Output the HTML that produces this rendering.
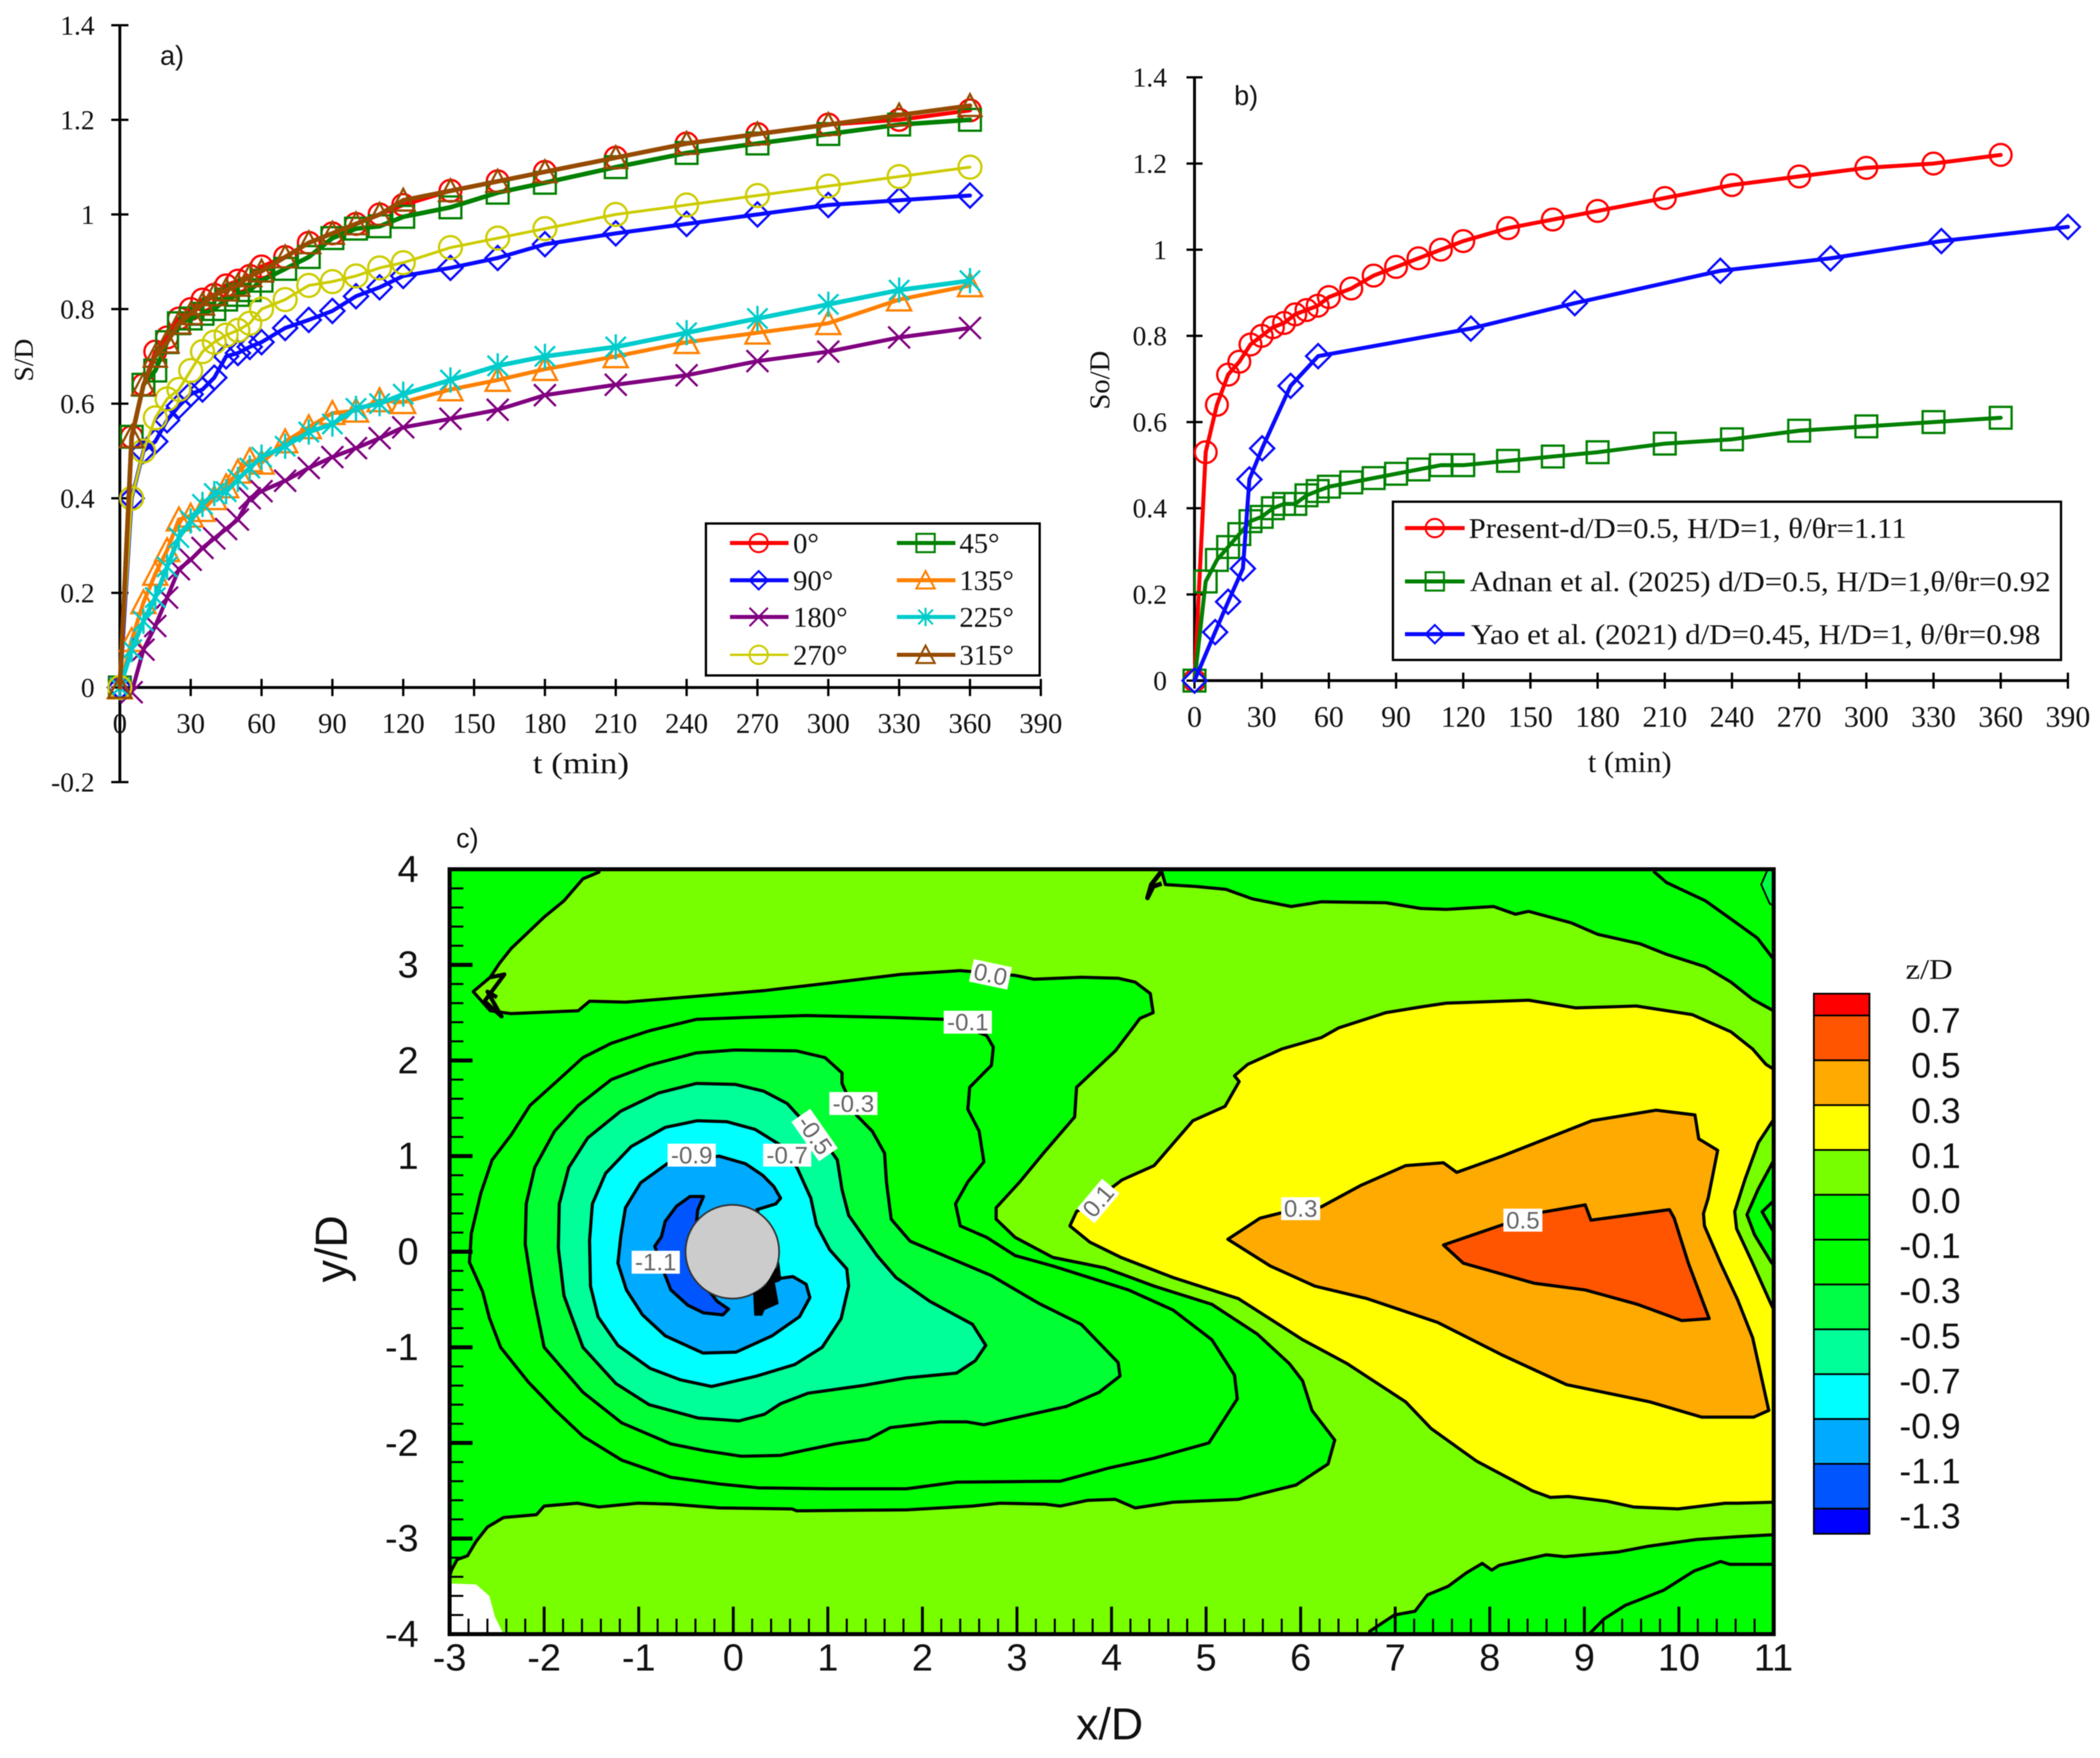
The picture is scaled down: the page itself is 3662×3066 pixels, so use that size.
<!DOCTYPE html>
<html lang="en">
<head>
<meta charset="utf-8">
<title>Scour depth time series and contour map</title>
<style>
html,body{margin:0;padding:0;background:#fff}
svg{display:block;filter:blur(0.7px)}
.serif{font-family:"Liberation Serif",serif;fill:#111}
.sans{font-family:"Liberation Sans",sans-serif;fill:#111}
</style>
</head>
<body>
<svg id="fig" xmlns="http://www.w3.org/2000/svg" width="3662" height="3066" viewBox="0 0 3662 3066">
<defs><clipPath id="plot-clip"><rect x="784" y="1516" width="2309" height="1334"/></clipPath></defs>
<rect width="3662" height="3066" fill="#fff"/>
<g id="a"></g>
<g id="b"></g>
<g id="c"></g>
</svg>
<script>
/* ---------- panel a data ---------- */
const timesA = [0,5,10,15,20,25,30,35,40,45,50,55,60,70,80,90,100,110,120,140,160,180,210,240,270,300,330,360];
const s0 = [0,.53,.64,.71,.74,.78,.80,.82,.83,.85,.86,.87,.89,.91,.94,.96,.98,1.0,1.02,1.05,1.07,1.09,1.12,1.15,1.17,1.19,1.20,1.22];
const s45 = [0,.53,.64,.67,.73,.77,.78,.79,.80,.82,.83,.84,.86,.885,.91,.95,.97,.975,.995,1.015,1.046,1.067,1.10,1.13,1.15,1.17,1.19,1.20];
const s90 = [0,.40,.50,.52,.565,.595,.62,.63,.655,.70,.707,.72,.73,.76,.777,.796,.827,.846,.87,.887,.908,.937,.96,.98,1.0,1.02,1.03,1.04];
const s135 = [0,.10,.18,.24,.29,.355,.363,.375,.40,.425,.456,.48,.475,.52,.55,.58,.585,.607,.603,.63,.65,.673,.70,.73,.75,.77,.82,.85];
const s180 = [0,-.01,.08,.13,.19,.25,.27,.295,.315,.335,.355,.40,.415,.437,.464,.487,.506,.527,.55,.568,.587,.618,.64,.66,.69,.71,.74,.76];
const s225 = [0,.08,.14,.19,.255,.317,.352,.387,.41,.414,.44,.464,.487,.51,.54,.557,.59,.60,.62,.65,.68,.70,.72,.75,.78,.81,.84,.86];
const s270 = [0,.40,.50,.57,.61,.63,.67,.71,.73,.745,.755,.77,.80,.82,.85,.858,.87,.887,.898,.93,.95,.97,1.0,1.02,1.04,1.06,1.08,1.10];
const s315 = [0,.53,.64,.70,.73,.77,.79,.81,.83,.84,.85,.87,.88,.91,.94,.96,.98,1.0,1.03,1.05,1.07,1.09,1.12,1.15,1.17,1.19,1.21,1.23];
const xTicksA = [0,30,60,90,120,150,180,210,240,270,300,330,360,390];
const yTicksA = [-0.2,0,0.2,0.4,0.6,0.8,1,1.2,1.4];
const legendLabelsA = ["0°","45°","90°","135°","180°","225°","270°","315°"];

/* ---------- panel b data ---------- */
const timesB = [0,5,10,15,20,25,30,35,40,45,50,55,60,70,80,90,100,110,120,140,160,180,210,240,270,300,330,360];
const present = [0,.53,.64,.71,.74,.78,.80,.82,.83,.85,.86,.87,.89,.91,.94,.96,.98,1.0,1.02,1.05,1.07,1.09,1.12,1.15,1.17,1.19,1.20,1.22];
const adnan = [0,.23,.28,.31,.34,.37,.38,.40,.41,.41,.43,.44,.45,.46,.47,.48,.49,.50,.50,.51,.52,.53,.55,.56,.58,.59,.60,.61];
const yaoTimes = [0,9.2,15,21.6,24.5,30.2,42.9,55.2,123.4,169.8,234.8,284,333.5,390];
const yao = [0,.1125,.183,.26,.467,.539,.684,.753,.817,.876,.951,.98,1.02,1.053];
const xTicksB = [0,30,60,90,120,150,180,210,240,270,300,330,360,390];
const yTicksB = [0,0.2,0.4,0.6,0.8,1,1.2,1.4];
const legendLabelsB = ["Present-d/D=0.5, H/D=1, θ/θr=1.11","Adnan et al. (2025) d/D=0.5, H/D=1,θ/θr=0.92","Yao et al. (2021) d/D=0.45, H/D=1, θ/θr=0.98"];

/* ---------- panel c data (x/D, y/D) ---------- */
const xTicksC = [-3,-2,-1,0,1,2,3,4,5,6,7,8,9,10,11];
const yTicksC = [-4,-3,-2,-1,0,1,2,3,4];
const colorbarLabels = ["0.7","0.5","0.3","0.1","0.0","-0.1","-0.3","-0.5","-0.7","-0.9","-1.1","-1.3"];
const contourZeroLeft = [[-3,4],[-1.42,4],[-1.42,3.97],[-1.59,3.90],[-1.79,3.67],[-2.0,3.50],[-2.35,3.17],[-2.47,3.02],[-2.57,2.87],[-2.75,2.72],[-2.57,2.52],[-2.35,2.49],[-1.64,2.52],[-1.52,2.62],[-1.14,2.61],[-.29,2.68],[.32,2.73],[1.02,2.81],[1.77,2.90],[2.40,2.94],[2.98,2.89],[3.18,2.85],[3.68,2.87],[4.07,2.86],[4.25,2.82],[4.41,2.70],[4.44,2.50],[4.30,2.44],[4.21,2.32],[4.04,2.10],[3.63,1.72],[3.61,1.41],[3.28,1.03],[3.03,.73],[2.78,.46],[2.78,.34],[2.98,.15],[3.38,-.06],[3.93,-.17],[4.45,-.36],[5.06,-.55],[5.54,-.86],[5.88,-1.17],[6.02,-1.35],[6.12,-1.66],[6.36,-1.97],[6.29,-2.22],[5.95,-2.44],[5.34,-2.59],[4.65,-2.62],[4.25,-2.68],[4.04,-2.59],[3.75,-2.60],[3.46,-2.66],[3.29,-2.64],[2.82,-2.63],[2.53,-2.66],[1.83,-2.70],[.67,-2.71],[.62,-2.69],[-.14,-2.68],[-.66,-2.64],[-1.01,-2.63],[-1.42,-2.67],[-1.65,-2.63],[-2.0,-2.66],[-2.08,-2.75],[-2.43,-2.78],[-2.60,-2.88],[-2.72,-3.03],[-2.81,-3.18],[-2.92,-3.22],[-2.98,-3.33],[-3,-3.4]];
const contourZeroTop = [[4.53,4],[4.53,3.98],[4.57,3.84],[4.89,3.82],[5.21,3.79],[5.49,3.69],[5.90,3.61],[6.22,3.66],[6.90,3.65],[7.27,3.59],[7.54,3.58],[8.04,3.61],[8.27,3.53],[8.41,3.56],[8.86,3.44],[9.14,3.32],[9.59,3.22],[9.87,3.11],[10.28,2.98],[10.55,2.82],[10.78,2.64],[11,2.52],[11,4]];
const contourMinus1Top = [[9.73,3.98],[9.87,3.86],[10.28,3.67],[10.55,3.48],[10.83,3.28],[11,3.06]];
const contourCornerSliver = [[10.94,4],[10.87,3.84],[10.96,3.64],[11,3.62],[11,4]];
const contourSpecksTop = [[4.53,3.98],[4.42,3.84],[4.38,3.70],[4.44,3.82],[4.53,3.85]];
const contourSpecksLeft = [[-2.57,2.87],[-2.42,2.90],[-2.63,2.62],[-2.45,2.46],[-2.6,2.72],[-2.5,2.66]];
const contourZeroBottom = [[6.73,-4],[6.73,-3.97],[6.99,-3.80],[7.21,-3.76],[7.34,-3.59],[7.56,-3.50],[7.75,-3.36],[7.92,-3.26],[8.02,-3.33],[8.10,-3.28],[8.60,-3.17],[8.79,-3.19],[9.36,-3.14],[9.68,-3.08],[10.19,-3.01],[10.63,-2.98],[11,-2.96],[11,-4]];
const contourMinus1Bottom = [[9.05,-4],[9.21,-3.84],[9.43,-3.70],[9.84,-3.54],[10.16,-3.34],[10.44,-3.24],[10.54,-3.27],[11,-3.27]];
const noDataCorner = [[-3,-3.47],[-2.72,-3.48],[-2.58,-3.60],[-2.52,-3.82],[-2.43,-4],[-3,-4]];
const contourMinus01 = [[2.23,2.43],[1.67,2.45],[.77,2.47],[.12,2.45],[-.39,2.43],[-.89,2.31],[-1.29,2.18],[-1.59,2.03],[-1.89,1.76],[-2.15,1.53],[-2.35,1.22],[-2.55,.96],[-2.67,.61],[-2.77,.19],[-2.79,-.11],[-2.65,-.42],[-2.58,-.69],[-2.46,-1.0],[-2.17,-1.36],[-1.88,-1.66],[-1.59,-1.93],[-1.18,-2.18],[-.66,-2.36],[-.14,-2.43],[.27,-2.47],[1.02,-2.48],[1.83,-2.48],[2.36,-2.41],[3.46,-2.40],[3.98,-2.26],[4.45,-2.16],[5.03,-2.0],[5.33,-1.54],[5.30,-1.29],[5.06,-.92],[4.65,-.61],[4.18,-.40],[3.38,-.15],[2.98,-.04],[2.68,.15],[2.40,.27],[2.35,.50],[2.48,.73],[2.65,.94],[2.60,1.26],[2.48,1.49],[2.50,1.72],[2.73,1.95],[2.75,2.14],[2.68,2.26]];
const contourMinus03 = [[1.15,1.76],[1.15,1.87],[.97,2.03],[.67,2.10],[.02,2.11],[-.39,2.08],[-.89,1.95],[-1.29,1.80],[-1.64,1.53],[-1.89,1.26],[-2.10,.88],[-2.19,.50],[-2.20,.08],[-2.12,-.42],[-2.0,-1.0],[-1.59,-1.47],[-1.18,-1.79],[-.66,-2.01],[-.31,-2.08],[.09,-2.14],[.50,-2.13],[1.08,-2.01],[1.43,-1.96],[1.66,-1.84],[2.18,-1.78],[2.47,-1.78],[2.65,-1.81],[3.52,-1.62],[3.87,-1.47],[4.09,-1.30],[4.07,-1.16],[3.68,-.76],[3.23,-.54],[2.73,-.25],[1.87,.11],[1.67,.34],[1.62,.73],[1.60,1.03],[1.47,1.26],[1.30,1.43]];
const contourMinus05 = [[.57,1.55],[.32,1.68],[.02,1.75],[-.39,1.76],[-.79,1.66],[-1.19,1.47],[-1.54,1.19],[-1.74,.88],[-1.84,.50],[-1.85,.04],[-1.79,-.46],[-1.59,-1.0],[-1.24,-1.38],[-.89,-1.60],[-.37,-1.74],[.06,-1.77],[.33,-1.70],[.50,-1.59],[.79,-1.48],[1.37,-1.40],[1.83,-1.32],[2.36,-1.27],[2.56,-1.14],[2.67,-.98],[2.53,-.76],[2.08,-.52],[1.72,-.27],[1.52,-.04],[1.22,.38],[1.15,.65],[1.10,.96],[1.05,1.03]];
const contourMinus07 = [[.675,.877],[.82,.56],[.88,.28],[1.02,.02],[1.20,-.18],[1.22,-.36],[1.14,-.70],[.94,-1.0],[.65,-1.18],[.25,-1.30],[-.23,-1.41],[-.56,-1.34],[-.88,-1.22],[-1.22,-.98],[-1.43,-.68],[-1.51,-.36],[-1.52,.12],[-1.49,.50],[-1.35,.82],[-1.08,1.10],[-.72,1.30],[-.38,1.37],[-.07,1.36],[.23,1.28],[.49,1.12]];
const contourMinus09 = [[-.70,.92],[-.98,.72],[-1.14,.46],[-1.19,.16],[-1.22,-.12],[-1.13,-.40],[-.96,-.66],[-.72,-.88],[-.32,-1.06],[.03,-1.05],[.41,-.88],[.70,-.68],[.81,-.48],[.77,-.34],[.63,-.26],[.49,-.28],[.47,-.12],[.25,.44],[.45,.50],[.50,.56],[.43,.68],[.31,.80],[.13,.92],[-.15,1.0]];
const contourMinus11 = [[-.315,.577],[-.457,.577],[-.60,.477],[-.72,.317],[-.76,.157],[-.83,.057],[-.74,-.20],[-.66,-.40],[-.48,-.56],[-.315,-.64],[-.11,-.66],[-.05,-.60],[-.17,-.52],[-.25,-.42],[-.4,-.25],[-.4,.2],[-.376,.437]];
const contourBlob = [[.45,-.18],[.49,-.30],[.43,-.32],[.47,-.54],[.33,-.60],[.36,-.52],[.30,-.66],[.23,-.66],[.22,-.44],[.30,-.40],[.35,-.36]];
const contourPlus01 = [[3.56,.27],[3.63,.42],[3.83,.54],[4.11,.75],[4.45,.90],[4.86,1.37],[5.20,1.52],[5.35,1.78],[5.30,1.84],[5.44,1.96],[5.80,2.12],[6.22,2.24],[6.40,2.34],[6.90,2.50],[7.27,2.56],[7.54,2.60],[8.41,2.63],[8.91,2.55],[9.55,2.57],[10.14,2.48],[10.55,2.30],[10.78,2.12],[10.92,1.96],[11,1.91],[11,-2.62],[10.63,-2.63],[10.49,-2.63],[9.99,-2.69],[9.52,-2.67],[9.24,-2.61],[8.83,-2.56],[8.64,-2.57],[8.45,-2.50],[7.86,-2.19],[7.38,-1.85],[7.11,-1.57],[6.49,-1.17],[6.02,-.92],[5.34,-.49],[4.65,-.27],[4.1,-.06],[3.77,.10]];
const chevronOuter = [[11,1.38],[10.84,1.14],[10.7,.76],[10.59,.42],[10.61,.24],[10.78,-.12],[10.97,-.54],[11,-.6]];
const chevronMiddle = [[11,.95],[10.84,.657],[10.72,.387],[10.80,.177],[10.97,-.10],[11,-.14]];
const chevronInner = [[11,.53],[10.88,.417],[11,.21]];
const contourPlus03 = [[5.23,.13],[5.57,.35],[5.81,.41],[6.22,.47],[6.63,.69],[7.11,.90],[7.51,.93],[7.65,.83],[8.13,1.0],[9.08,1.37],[9.76,1.48],[10.17,1.43],[10.21,1.18],[10.41,1.06],[10.31,.56],[10.26,.40],[10.27,.27],[10.44,-.12],[10.62,-.50],[10.78,-.90],[10.95,-1.66],[10.79,-1.73],[10.24,-1.73],[9.69,-1.57],[8.81,-1.39],[8.13,-1.08],[7.45,-.74],[6.70,-.49],[6.15,-.36],[5.68,-.15]];
const contourPlus05 = [[7.51,.07],[8.13,.28],[8.54,.41],[9.01,.49],[9.07,.33],[9.90,.44],[9.95,.35],[10.10,-.12],[10.32,-.70],[10.03,-.72],[9.56,-.55],[9.01,-.40],[8.47,-.33],[7.72,-.12]];
const contourLabelText = ["0.0","-0.1","-0.3","-0.5","-0.7","-0.9","-1.1","0.1","0.3","0.5"];
const contourLabelX = [2.72,2.48,1.27,.86,.57,-.44,-.82,3.86,6.0,8.35];
const contourLabelY = [2.90,2.40,1.55,1.22,1.01,1.01,-.11,.53,.45,.33];
const contourLabelAngle = [12,0,0,55,0,0,0,-50,0,0];

/* ---------- helpers ---------- */
const NS = "http://www.w3.org/2000/svg";
function mk(parent, tag, name, attrs, content) {
  const el = document.createElementNS(NS, tag);
  
  
  for (const k in attrs) el.setAttribute(k, attrs[k]);
  if (content !== undefined) el.textContent = content;
  parent.appendChild(el);
  return el;
}
function txt(parent, name, x, y, s, size, cls, anchor, extra) {
  const a = Object.assign({x: x, y: y + size * 0.34, class: cls, 'font-size': size, 'text-anchor': anchor || 'middle'}, extra || {});
  return mk(parent, 'text', name, a, s);
}
function vtxt(parent, name, x, y, s, size, cls, len) {
  const a = {x: 0, y: size * 0.34, class: cls, 'font-size': size, 'text-anchor': 'middle', transform: 'translate(' + x + ',' + y + ') rotate(-90)'};
  if (len) { a.textLength = len; a.lengthAdjust = 'spacingAndGlyphs'; }
  return mk(parent, 'text', name, a, s);
}
function line(parent, name, x1, y1, x2, y2, w, col) {
  return mk(parent, 'line', name, {x1: x1, y1: y1, x2: x2, y2: y2, stroke: col || '#000', 'stroke-width': w});
}
function marker(parent, kind, cx, cy, s, col, sw) {
  const st = {fill: 'none', stroke: col, 'stroke-width': sw};
  if (kind === 'circle') mk(parent, 'circle', 'marker-circle', Object.assign({cx: cx, cy: cy, r: s}, st));
  if (kind === 'square') mk(parent, 'rect', 'marker-square', Object.assign({x: cx - s, y: cy - s, width: 2 * s, height: 2 * s}, st));
  if (kind === 'diamond') mk(parent, 'polygon', 'marker-diamond', Object.assign({points: [cx, cy - s, cx + s, cy, cx, cy + s, cx - s, cy].join(' ')}, st));
  if (kind === 'triangle') mk(parent, 'polygon', 'marker-triangle', Object.assign({points: [cx, cy - s, cx + s, cy + s * .9, cx - s, cy + s * .9].join(' ')}, st));
  if (kind === 'x') mk(parent, 'path', 'marker-x', Object.assign({d: 'M' + (cx - s) + ' ' + (cy - s) + 'L' + (cx + s) + ' ' + (cy + s) + 'M' + (cx + s) + ' ' + (cy - s) + 'L' + (cx - s) + ' ' + (cy + s)}, st));
  if (kind === 'star') mk(parent, 'path', 'marker-asterisk', Object.assign({d: 'M' + (cx - s * .8) + ' ' + (cy - s * .8) + 'L' + (cx + s * .8) + ' ' + (cy + s * .8) + 'M' + (cx + s * .8) + ' ' + (cy - s * .8) + 'L' + (cx - s * .8) + ' ' + (cy + s * .8) + 'M' + cx + ' ' + (cy - s) + 'L' + cx + ' ' + (cy + s)}, st));
}
function series(parent, name, xs, ys, fx, fy, col, w, kind, s, sw) {
  const g = mk(parent, 'g', name, {});
  const pts = xs.map(function (t, i) { return fx(t).toFixed(1) + ',' + fy(ys[i]).toFixed(1); }).join(' ');
  mk(g, 'polyline', name + '-line', {points: pts, fill: 'none', stroke: col, 'stroke-width': w, 'stroke-linejoin': 'round', 'stroke-linecap': 'round'});
  xs.forEach(function (t, i) { marker(g, kind, fx(t), fy(ys[i]), s, col, sw); });
}

/* ---------- panel a ---------- */
const xA = function (t) { return 209 + t * (1815 - 209) / 390; };
const yA = function (v) { return 1199 - v * 825; };
(function () {
  const g = document.getElementById('a');
  const axes = mk(g, 'g', 'axes-a', {});
  line(axes, 'y-axis-a', xA(0), yA(1.4), xA(0), yA(-0.2), 5);
  line(axes, 'x-axis-a', xA(0), yA(0), xA(390), yA(0), 5);
  yTicksA.forEach(function (v) {
    line(axes, 'y-tick-a', xA(0) - 15, yA(v), xA(0) + 15, yA(v), 4);
    txt(axes, 'y-tick-label-a', 165, yA(v), String(v), 48, 'serif', 'end');
  });
  xTicksA.forEach(function (t) {
    line(axes, 'x-tick-a', xA(t), yA(0) - 15, xA(t), yA(0) + 15, 4);
    txt(axes, 'x-tick-label-a', xA(t), 1261, String(t), 50, 'serif');
  });
  txt(axes, 'x-axis-title-a', 1013, 1331, 't (min)', 52, 'serif', 'middle', {textLength: 168, lengthAdjust: 'spacingAndGlyphs'});
  vtxt(axes, 'y-axis-title-a', 41, 628, 'S/D', 48, 'serif');
  txt(axes, 'panel-label-a', 300, 97, 'a)', 47, 'sans');

  series(g, 'series-0deg', timesA, s0, xA, yA, '#ff0000', 7, 'circle', 19, 4);
  series(g, 'series-45deg', timesA, s45, xA, yA, '#008000', 8, 'square', 19, 4);
  series(g, 'series-90deg', timesA, s90, xA, yA, '#0a0aff', 7, 'diamond', 21, 4);
  series(g, 'series-135deg', timesA, s135, xA, yA, '#ff8000', 7, 'triangle', 21, 4);
  series(g, 'series-180deg', timesA, s180, xA, yA, '#800080', 7, 'x', 19, 4);
  series(g, 'series-225deg', timesA, s225, xA, yA, '#00cccc', 8, 'star', 22, 4);
  series(g, 'series-270deg', timesA, s270, xA, yA, '#cccc00', 5, 'circle', 20, 4);
  series(g, 'series-315deg', timesA, s315, xA, yA, '#964b00', 8, 'triangle', 20, 4);

  const lg = mk(g, 'g', 'legend-a', {});
  mk(lg, 'rect', 'legend-frame-a', {x: 1231, y: 913, width: 582, height: 265, fill: '#fff', stroke: '#000', 'stroke-width': 4});
  const cols = ['#ff0000','#008000','#0a0aff','#ff8000','#800080','#00cccc','#cccc00','#964b00'];
  const kinds = ['circle','square','diamond','triangle','x','star','circle','triangle'];
  const rows = [947, 1012, 1076, 1142];
  legendLabelsA.forEach(function (s, i) {
    const c = i % 2, y = rows[Math.floor(i / 2)];
    const x0 = c ? 1564 : 1273;
    const e = mk(lg, 'g', 'legend-entry-a', {});
    line(e, 'legend-line', x0, y, x0 + 102, y, i === 6 ? 4 : 7, cols[i]);
    marker(e, kinds[i], x0 + 50, y, 16, cols[i], 3.5);
    txt(e, 'legend-label', c ? 1673 : 1383, y, s, 50, 'serif', 'start');
  });
})();

/* ---------- panel b ---------- */
const xB = function (t) { return 2083 + t * (3606 - 2083) / 390; };
const yB = function (v) { return 1187 - v * 751.5; };
(function () {
  const g = document.getElementById('b');
  const axes = mk(g, 'g', 'axes-b', {});
  line(axes, 'y-axis-b', xB(0), yB(1.4), xB(0), yB(0), 5);
  line(axes, 'x-axis-b', xB(0), yB(0), xB(390), yB(0), 5);
  yTicksB.forEach(function (v) {
    line(axes, 'y-tick-b', xB(0) - 14, yB(v), xB(0) + 14, yB(v), 4);
    txt(axes, 'y-tick-label-b', 2035, yB(v), String(v), 48, 'serif', 'end');
  });
  xTicksB.forEach(function (t) {
    line(axes, 'x-tick-b', xB(t), yB(0) - 14, xB(t), yB(0) + 14, 4);
    txt(axes, 'x-tick-label-b', xB(t), 1250, String(t), 52, 'serif');
  });
  txt(axes, 'x-axis-title-b', 2842, 1329, 't (min)', 52, 'serif', 'middle', {textLength: 146, lengthAdjust: 'spacingAndGlyphs'});
  vtxt(axes, 'y-axis-title-b', 1917, 663, 'So/D', 50, 'serif');
  txt(axes, 'panel-label-b', 2173, 167, 'b)', 47, 'sans');

  series(g, 'series-present', timesB, present, xB, yB, '#ff0000', 7, 'circle', 19, 4);
  series(g, 'series-adnan', timesB, adnan, xB, yB, '#008000', 7, 'square', 19, 4);
  series(g, 'series-yao', yaoTimes, yao, xB, yB, '#0a0aff', 7, 'diamond', 21, 4);

  const lg = mk(g, 'g', 'legend-b', {});
  mk(lg, 'rect', 'legend-frame-b', {x: 2429, y: 875, width: 1165, height: 276, fill: '#fff', stroke: '#000', 'stroke-width': 4});
  const cols = ['#ff0000','#008000','#0a0aff'];
  const kinds = ['circle','square','diamond'];
  const rows = [921, 1014, 1106];
  const lens = [764, 1013, 993];
  const tx = [2561, 2563, 2565];
  legendLabelsB.forEach(function (s, i) {
    const e = mk(lg, 'g', 'legend-entry-b', {});
    line(e, 'legend-line', 2450, rows[i], 2554, rows[i], 7, cols[i]);
    marker(e, kinds[i], 2502, rows[i], 16, cols[i], 3.5);
    txt(e, 'legend-label', tx[i], rows[i], s, 50, 'serif', 'start', {textLength: lens[i], lengthAdjust: 'spacingAndGlyphs'});
  });
})();

/* ---------- panel c ---------- */
const xC = function (x) { return 784 + (x + 3) * 164.9; };
const yC = function (y) { return 2183 - y * 166.75; };
const CONTOUR_W = 5.5;
function poly(parent, name, pts, fill, w) {
  const p = pts.map(function (q) { return xC(q[0]).toFixed(1) + ',' + yC(q[1]).toFixed(1); }).join(' ');
  return mk(parent, 'polygon', name, {points: p, fill: fill, stroke: '#000', 'stroke-width': w === undefined ? CONTOUR_W : w, 'stroke-linejoin': 'round'});
}
function pline(parent, name, pts, w) {
  const p = pts.map(function (q) { return xC(q[0]).toFixed(1) + ',' + yC(q[1]).toFixed(1); }).join(' ');
  return mk(parent, 'polyline', name, {points: p, fill: 'none', stroke: '#000', 'stroke-width': w || CONTOUR_W, 'stroke-linejoin': 'round'});
}
(function () {
  const g = document.getElementById('c');
  txt(g, 'panel-label-c', 815, 1462, 'c)', 47, 'sans');
  const f = mk(g, 'g', 'contour-field', {'clip-path': 'url(#plot-clip)'});
  mk(f, 'rect', 'lime-background', {x: 784, y: 1516, width: 2309, height: 1334, fill: '#77ff00'});
  poly(f, 'contour-0-left', contourZeroLeft, '#00ff00');
  poly(f, 'contour-0-top', contourZeroTop, '#00ff00');
  pline(f, 'contour-specks-top', contourSpecksTop, 8);
  pline(f, 'contour-specks-left', contourSpecksLeft, 7);
  pline(f, 'contour-minus-0-1-top', contourMinus1Top);
  poly(f, 'contour-corner-sliver', contourCornerSliver, '#00ff44', 3);
  poly(f, 'contour-0-bottom', contourZeroBottom, '#00ff00');
  pline(f, 'contour-minus-0-1-bottom', contourMinus1Bottom);
  mk(f, 'polygon', 'no-data-corner', {points: noDataCorner.map(function (q) { return xC(q[0]) + ',' + yC(q[1]); }).join(' '), fill: '#fff'});
  poly(f, 'contour-minus-0-1', contourMinus01, '#00ff00');
  poly(f, 'contour-minus-0-3', contourMinus03, '#00ff33');
  poly(f, 'contour-minus-0-5', contourMinus05, '#00ff99');
  poly(f, 'contour-minus-0-7', contourMinus07, '#00ffff');
  poly(f, 'contour-minus-0-9', contourMinus09, '#00aaff');
  poly(f, 'contour-minus-1-1', contourMinus11, '#0055ff');
  mk(f, 'ellipse', 'cylinder', {cx: xC(-0.01), cy: yC(0), rx: 0.495 * 164.9, ry: 0.49 * 166.75, fill: '#cccccc', stroke: '#333', 'stroke-width': 3});
  poly(f, 'contour-blob', contourBlob, '#000', 3);
  poly(f, 'contour-plus-0-1', contourPlus01, '#ffff00');
  poly(f, 'chevron-outer', chevronOuter, '#77ff00');
  poly(f, 'chevron-middle', chevronMiddle, '#00ff00');
  poly(f, 'chevron-inner', chevronInner, '#00ff00');
  poly(f, 'contour-plus-0-3', contourPlus03, '#ffaa00');
  poly(f, 'contour-plus-0-5', contourPlus05, '#ff5500');

  contourLabelText.forEach(function (s, i) {
    const cx = xC(contourLabelX[i]), cy = yC(contourLabelY[i]);
    const w = s.length > 3 ? 84 : 68;
    const lab = mk(g, 'g', 'contour-label', {transform: 'translate(' + cx + ',' + cy + ') rotate(' + contourLabelAngle[i] + ')'});
    mk(lab, 'rect', 'contour-label-box', {x: -w / 2, y: -20, width: w, height: 40, fill: '#fff'});
    txt(lab, 'contour-label-text', 0, 0, s, 42, 'sans', 'middle', {style: 'fill:#666'});
  });

  const ax = mk(g, 'g', 'axes-c', {});
  for (let i = 0; i <= 40; i++) {
    const v = -4 + i * 0.2;
    if (i % 5 === 0) line(ax, 'y-major-tick-c', 784, yC(v), 824, yC(v), 7);
    else line(ax, 'y-minor-tick-c', 784, yC(v), 808, yC(v), 3.5);
  }
  for (let i = 0; i <= 70; i++) {
    const v = -3 + i * 0.2;
    if (i % 5 === 0) line(ax, 'x-major-tick-c', xC(v), 2850, xC(v), 2802, 5);
    else line(ax, 'x-minor-tick-c', xC(v), 2850, xC(v), 2823, 3.5);
  }
  mk(ax, 'rect', 'plot-frame', {x: 784, y: 1516, width: 2309, height: 1334, fill: 'none', stroke: '#000', 'stroke-width': 7});
  xTicksC.forEach(function (v) { txt(ax, 'x-tick-label-c', xC(v), 2891, String(v), 66, 'sans'); });
  yTicksC.forEach(function (v) { txt(ax, 'y-tick-label-c', 730, yC(v), String(v), 66, 'sans', 'end'); });
  txt(ax, 'x-axis-title-c', 1935, 3007, 'x/D', 78, 'sans');
  vtxt(ax, 'y-axis-title-c', 578, 2178, 'y/D', 78, 'sans');

  const cb = mk(g, 'g', 'colorbar', {});
  const bandColors = ['#ff0000','#ff5500','#ffaa00','#ffff00','#77ff00','#00ff00','#00ff00','#00ff44','#00ff99','#00ffff','#00aaff','#0055ff','#0000ff'];
  const yBar = function (i) { return 1771 + i * 78.2; };
  bandColors.forEach(function (c, i) {
    const top = i === 0 ? 1733 : yBar(i - 1);
    const bot = i === 12 ? 2675 : yBar(i);
    mk(cb, 'rect', 'colorbar-band', {x: 3163, y: top, width: 97, height: bot - top, fill: c, stroke: '#000', 'stroke-width': 3});
  });
  colorbarLabels.forEach(function (s, i) {
    txt(cb, 'colorbar-label', 3419, yBar(i) + 9 + i * 0.4, s, 62, 'sans', 'end');
  });
  txt(cb, 'colorbar-title', 3364, 1690, 'z/D', 50, 'serif', 'middle', {textLength: 82, lengthAdjust: 'spacingAndGlyphs'});
})();
</script>
</body>
</html>
